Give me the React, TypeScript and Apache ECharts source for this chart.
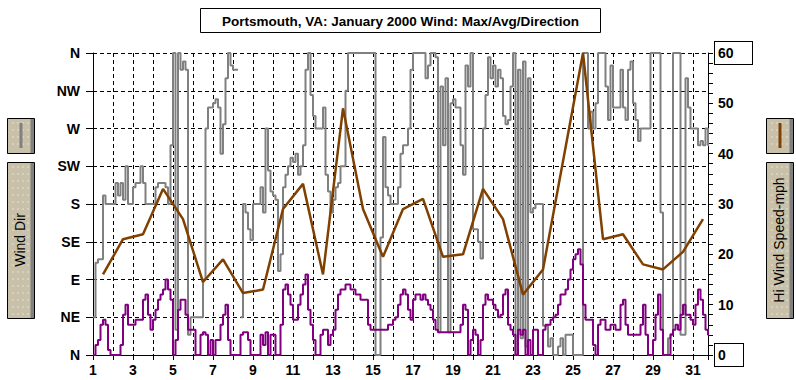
import React, { useEffect, useRef } from 'react';
import * as echarts from 'echarts';

// Direction tick labels (degrees 0..360 every 45)
const DIR_LABELS = ['N', 'NE', 'E', 'SE', 'S', 'SW', 'W', 'NW', 'N'];

// Samples every 3 hours (8 per day), starting Jan 1 00:00
const SAMPLES_PER_DAY = 8;
const FIRST_DAY = 1;

// Wind direction, degrees (null = missing)
const windDir: (number | null)[] = [
  45, 110, 114, 114, 190, 180, 180, 180,
  180, 205, 190, 205, 185, 225, 180, 180,
  200, 205, 205, 225, 205, 180, 180, 180,
  180, 200, 205, 205, 205, 200, 180, 250,
  360, 30, 360, 340, 350, 340, 24, 45,
  45, 45, 45, 45, 90, 270, 295, 295,
  300, 305, 295, 240, 275, 330, 360, 345,
  340, 340, null, 45, 180, 170, 150, 137,
  180, 180, 180, 200, 170, 270, 220, 195,
  190, 185, 100, 120, 200, 215, 225, 235,
  230, 240, 215, 225, 250, 340, 360, 310,
  285, 270, 270, 270, 295, 215, 195, 170,
  185, 200, 205, 225, 225, 315, 360, 360,
  360, 360, 360, 360, 360, 360, 360, 360,
  360, 0, 0, 140, 260, 200, 190, 180,
  180, 180, 200, 240, 250, 250, 270, 340,
  360, 360, 360, 360, 360, 330, 345, 360,
  360, 355, 27, 320, 250, 330, 27, 300,
  305, 295, 295, 250, 215, 345, 320, 360,
  150, 150, 135, 115, 270, 310, 355, 330,
  345, 320, 340, 330, 285, 275, 280, 320,
  360, 0, 340, 20, 350, 10, 330, 170,
  175, 180, 180, 180, 35, 35, 10, 20,
  0, 0, 10, 20, 0, 24, 24, 24,
  0, 0, 0, 0, 360, 360, 270, 290,
  270, 300, 360, 360, 360, 320, 280, 345,
  295, 295, 295, 340, 295, 280, 340, 350,
  300, 280, 255, 270, 270, 270, 270, 360,
  360, 360, 360, 170, 0, 0, 20, 25,
  360, 360, 360, 24, 24, 330, 295, 270,
  270, 270, 250, 255, 250, 270, 250, 250,
];

// Average wind speed, mph
const avgSpeed: number[] = [
  0, 2, 3, 6, 7, 6, 1, 0,
  0, 0, 0, 2, 8, 10, 6, 6,
  6, 7, 7, 7, 11, 12, 8, 5,
  7, 9, 11, 12, 13, 15, 13, 11,
  0, 3, 9, 11, 11, 8, 5, 5,
  5, 0, 0, 4, 4.5, 4, 0, 3,
  0, 3, 3, 6, 8, 10, 3, 0,
  0, 0, 0, 4, 4.5, 4.5, 3, 0,
  0, 0, 0, 4, 2, 4.5, 0, 4,
  4, 0, 0, 6, 13, 14, 12, 10,
  7, 7, 10, 12, 14, 16, 9, 6,
  3, 0, 0, 4, 5, 5, 2, 4,
  5, 9, 12, 13, 13, 14, 14, 13,
  13, 12, 12, 11, 11, 11, 6, 5,
  5, 5, 5, 5, 5, 5, 6, 6,
  7, 7.5, 10, 12, 13, 12, 9, 7,
  11, 12, 12, 11, 12, 11, 10, 9,
  7, 5, 4.5, 4.5, 4.5, 4.5, 4.5, 4.5,
  4.5, 4.5, 4.5, 6, 10, 9, 0, 3,
  5, 4, 0, 3, 10, 12, 11, 11,
  10, 9, 7.5, 8, 12, 13, 6, 5,
  4, 0, 5, 4, 5, 0, 3, 0,
  5, 5, 0, 0, 5, 6, 6, 7,
  7.5, 8, 10, 12, 12, 13, 15, 17,
  19, 20, 21, 18, 10, 7, 7, 7,
  2, 0, 6, 7, 7, 5, 5, 6,
  6, 5, 5, 10, 11, 6, 4, 4,
  4, 4, 4, 6, 10, 4, 0, 0,
  3, 8, 12, 5, 0, 0, 0, 4,
  5, 6, 5, 8, 10, 8, 8, 7,
  6, 10, 13, 11, 8, 5, 4, 4,
];

// Daily maximum ("Hi") wind speed, mph, plotted at midday
const hiSpeed: number[] = [
  16, 23, 24, 33, 27, 14.5, 19, 12.3, 13, 29,
  34, 16, 49, 29, 19.5, 29, 31, 19.5, 20, 33,
  27, 12, 17, 38.5, 60, 23, 24, 18, 17, 20.5,
  27,
];

const FONT = '"Liberation Sans", Arial, sans-serif';
const BEIGE = '#c8c0a8';

function sampled(vals: (number | null)[]) {
  return vals.map((v, i) => [FIRST_DAY + i / SAMPLES_PER_DAY, v === null ? '-' : v]);
}

function legendBox(x: number, y: number, w: number, h: number) {
  const els: any[] = [
    { type: 'rect', shape: { x, y, width: w, height: h }, style: { fill: BEIGE, stroke: '#000', lineWidth: 1 } },
    { type: 'rect', shape: { x: x + w - 4, y: y + 0.5, width: 3.5, height: h - 1 }, style: { fill: '#808080' } },
  ];
  for (let cx = x + 5; cx < x + w - 5; cx += 5) {
    for (let cy = y + 4; cy < y + h - 3; cy += 7) {
      els.push({ type: 'rect', shape: { x: cx, y: cy, width: 1, height: 1 }, style: { fill: '#ffffff' } });
    }
  }
  return els;
}

export default function App() {
  const ref = useRef<HTMLDivElement>(null);
  useEffect(() => {
    if (!ref.current) return;
    const chart = echarts.init(ref.current, undefined, { renderer: 'svg' });
    const labelStyle = { color: '#000', fontWeight: 'bold' as const, fontSize: 14, fontFamily: FONT };
    const option: any = {
      animation: false,
      backgroundColor: '#ffffff',
      textStyle: { fontFamily: FONT },
      grid: { left: 93, top: 53, width: 615, height: 302, containLabel: false },
      xAxis: {
        type: 'value', min: 1, max: 31.75, interval: 1,
        axisLine: { lineStyle: { color: '#000', width: 1 } },
        axisTick: { length: 5, lineStyle: { color: '#000' } },
        axisLabel: {
          ...labelStyle, margin: 8,
          formatter: (v: number) => (Number.isInteger(v) && v % 2 === 1 ? String(v) : ''),
        },
        splitLine: { show: true, lineStyle: { color: '#000', type: [4, 3], width: 1 } },
      },
      yAxis: [
        {
          type: 'value', min: 0, max: 360, interval: 45, position: 'left',
          axisLine: { show: true, lineStyle: { color: '#000' } },
          axisTick: { show: true, length: 7, lineStyle: { color: '#000' } },
          axisLabel: { ...labelStyle, margin: 13, formatter: (v: number) => DIR_LABELS[Math.round(v / 45)] },
          splitLine: { show: true, lineStyle: { color: '#000', type: [4, 3], width: 1 } },
        },
        {
          type: 'value', min: 0, max: 60, interval: 10, position: 'right',
          axisLine: { show: true, lineStyle: { color: '#000' } },
          axisTick: { show: true, length: 5, lineStyle: { color: '#000' } },
          minorTick: { show: true, splitNumber: 5, length: 5, lineStyle: { color: '#000' } },
          splitLine: { show: false },
          axisLabel: {
            margin: 7,
            formatter: (v: number) => (v === 60 ? '{top|60}' : v === 0 ? '{bot|0}' : '{n|' + v + '}'),
            rich: {
              n: { ...labelStyle, padding: [0, 0, 0, 3] },
              top: { ...labelStyle, width: 34, height: 22, lineHeight: 22, padding: [0, 0, 0, 3], borderColor: '#000', borderWidth: 1, backgroundColor: '#fff' },
              bot: { ...labelStyle, width: 25, height: 22, lineHeight: 22, padding: [0, 0, 0, 3], borderColor: '#000', borderWidth: 1, backgroundColor: '#fff' },
            },
          },
        },
      ],
      series: [
        {
          name: 'Wind Dir', type: 'line', yAxisIndex: 0, step: 'end', showSymbol: false,
          data: sampled(windDir), connectNulls: false,
          lineStyle: { color: '#808080', width: 2 }, z: 2,
        },
        {
          name: 'Avg Wind Speed', type: 'line', yAxisIndex: 1, step: 'end', showSymbol: false,
          data: sampled(avgSpeed),
          lineStyle: { color: '#800080', width: 2 }, z: 3,
        },
        {
          name: 'Hi Wind Speed-mph', type: 'line', yAxisIndex: 1, showSymbol: false,
          data: hiSpeed.map((v, i) => [FIRST_DAY + i + 0.5, v]),
          lineStyle: { color: '#804000', width: 2.5 }, z: 4,
        },
      ],
      graphic: [
        { type: 'rect', shape: { x: 200.5, y: 8.5, width: 400, height: 24 }, style: { fill: '#fff', stroke: '#000', lineWidth: 1 } },
        { type: 'text', x: 400.5, y: 21, style: { text: 'Portsmouth, VA: January 2000 Wind: Max/Avg/Direction', fontSize: 13.5, fontWeight: 'bold', fontFamily: FONT, fill: '#000', align: 'center', verticalAlign: 'middle' } },
        ...legendBox(7.5, 118.5, 27, 35),
        { type: 'line', shape: { x1: 21, y1: 123, x2: 21, y2: 148 }, style: { stroke: '#808080', lineWidth: 3 } },
        ...legendBox(7.5, 162.5, 27, 156),
        { type: 'text', x: 20, y: 240, rotation: Math.PI / 2, style: { text: 'Wind Dir', fontSize: 14, fontFamily: FONT, fill: '#000', align: 'center', verticalAlign: 'middle' } },
        ...legendBox(766.5, 118.5, 27, 35),
        { type: 'line', shape: { x1: 780, y1: 123, x2: 780, y2: 148 }, style: { stroke: '#804000', lineWidth: 3 } },
        ...legendBox(766.5, 162.5, 27, 156),
        { type: 'text', x: 779, y: 240, rotation: Math.PI / 2, style: { text: 'Hi Wind Speed-mph', fontSize: 14, fontFamily: FONT, fill: '#000', align: 'center', verticalAlign: 'middle' } },
      ],
    };
    chart.setOption(option);
    return () => chart.dispose();
  }, []);
  return <div ref={ref} style={{ position: 'fixed', left: 0, top: 0, width: 796, height: 380 }} />;
}
